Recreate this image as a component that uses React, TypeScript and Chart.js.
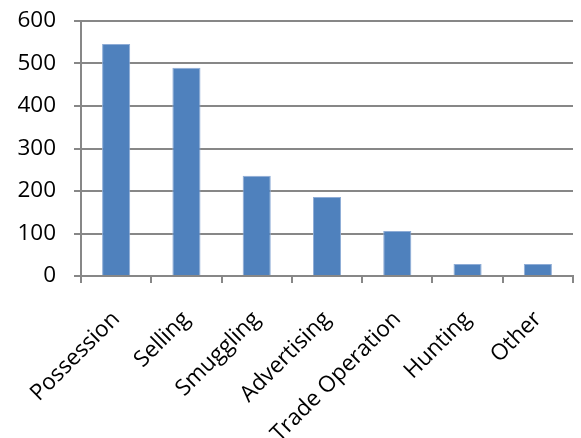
import React, { useEffect, useRef } from "react";
import { Chart, registerables } from "chart.js";

Chart.register(...registerables);

const categories = ["Possession", "Selling", "Smuggling", "Advertising", "Trade Operation", "Hunting", "Other"];
const values = [546, 490, 236, 186, 106, 28, 28];
const yTicks = [0, 100, 200, 300, 400, 500, 600];

const FONT = "'Open Sans'";
const GRID = "#878787";

export default function App() {
  const ref = useRef<HTMLCanvasElement | null>(null);
  useEffect(() => {
    document.body.style.margin = "0";
    const chart = new Chart(ref.current!, {
      type: "bar",
      data: {
        labels: categories,
        datasets: [
          {
            data: values,
            backgroundColor: "#4F81BD",
            borderColor: "#8EACD6",
            borderWidth: 1,
            barPercentage: 0.4,
            categoryPercentage: 1,
          },
        ],
      },
      options: {
        animation: false,
        responsive: true,
        maintainAspectRatio: false,
        layout: { padding: { top: 21, right: 8, left: 0, bottom: 0 } },
        plugins: { legend: { display: false }, tooltip: { enabled: false } },
        scales: {
          x: {
            afterFit: (s: any) => {
              s.height = 162;
              s.paddingLeft = 0;
              s.paddingRight = 0;
              s.paddingTop = 0;
              s.paddingBottom = 0;
            },
            grid: { drawOnChartArea: false, drawTicks: true, tickLength: 7, color: GRID, lineWidth: 2, offset: true },
            border: { color: GRID, width: 2 },
            ticks: {
              color: "#000",
              font: { family: FONT, size: 22.5 },
              maxRotation: 45,
              minRotation: 45,
              padding: 23,
              autoSkip: false,
            },
          },
          y: {
            min: 0,
            max: 600,
            afterFit: (s: any) => {
              s.width = 81;
              s.paddingTop = 0;
              s.paddingBottom = 0;
              s.paddingLeft = 0;
              s.paddingRight = 0;
            },
            afterBuildTicks: (s: any) => {
              s.ticks = yTicks.map((v) => ({ value: v }));
            },
            grid: { color: GRID, lineWidth: 2, tickLength: 7 },
            border: { color: GRID, width: 2 },
            ticks: {
              color: "#000",
              font: { family: FONT, size: 22.5 },
              padding: 18,
            },
          },
        },
      },
    });
    return () => chart.destroy();
  }, []);
  return (
    <div style={{ position: "absolute", left: 0, top: 0, width: 581, height: 438 }}>
      <canvas ref={ref} />
    </div>
  );
}
